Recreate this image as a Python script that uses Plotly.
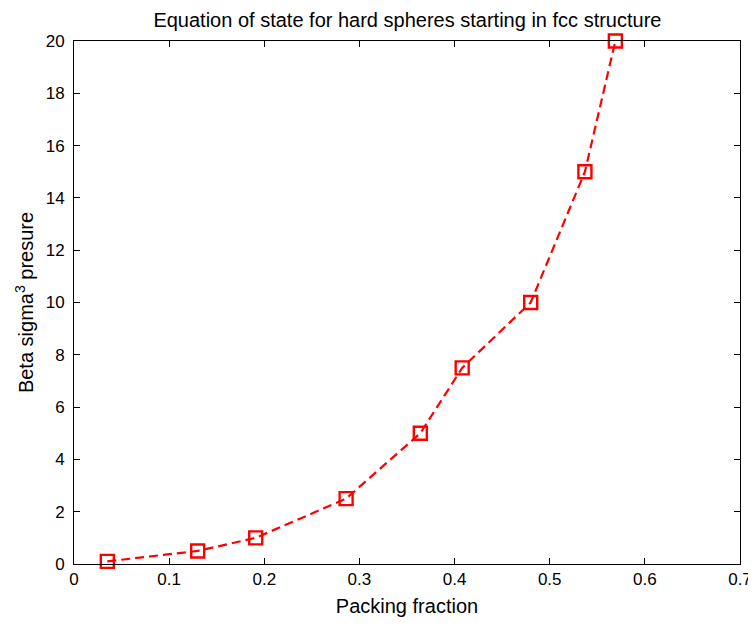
import plotly.graph_objects as go

packing_fraction = [0.035, 0.130, 0.191, 0.286, 0.364, 0.408, 0.480, 0.537, 0.569]
pressure = [0.1, 0.5, 1.0, 2.5, 5.0, 7.5, 10.0, 15.0, 20.0]

x_ticks = [0, 0.1, 0.2, 0.3, 0.4, 0.5, 0.6, 0.7]
x_tick_labels = ["0", "0.1", "0.2", "0.3", "0.4", "0.5", "0.6", "0.7"]
y_ticks = [0, 2, 4, 6, 8, 10, 12, 14, 16, 18, 20]

fig = go.Figure()
fig.add_trace(go.Scatter(
    x=packing_fraction, y=pressure, mode="lines+markers",
    line=dict(color="#ff0000", width=2.2, dash="9px,5px"),
    marker=dict(symbol="square-open", size=13, color="#ff0000", line=dict(width=2.4, color="#ff0000")),
    cliponaxis=False, showlegend=False,
))

font = "Liberation Sans, Arial, sans-serif"
axis_common = dict(
    showline=True, linecolor="black", linewidth=1, mirror="ticks",
    ticks="inside", ticklen=6, tickcolor="black", showgrid=False, zeroline=False,
    tickfont=dict(family=font, size=17, color="black"), automargin=False,
)
# page body has an 8px default margin; figure sized so the axes land where the reference has them
fig.update_layout(
    width=748, height=618,
    margin=dict(l=66, r=16, t=33, b=62),
    paper_bgcolor="white", plot_bgcolor="white",
    title=dict(text="Equation of state for hard spheres starting in fcc structure",
               x=0.534, xanchor="center", y=0.981, yanchor="middle",
               xref="container", yref="container",
               font=dict(family=font, size=20, color="black")),
    xaxis=dict(range=[0, 0.7], tickvals=x_ticks, ticktext=x_tick_labels,
               title=dict(text="Packing fraction", font=dict(family=font, size=20, color="black"), standoff=10),
               **axis_common),
    yaxis=dict(range=[0, 20], tickvals=y_ticks, ticklabelstandoff=5,
               title=dict(text="Beta sigma<sup>3</sup> presure", font=dict(family=font, size=20, color="black"), standoff=6),
               **axis_common),
)
fig.write_html("out.html")
